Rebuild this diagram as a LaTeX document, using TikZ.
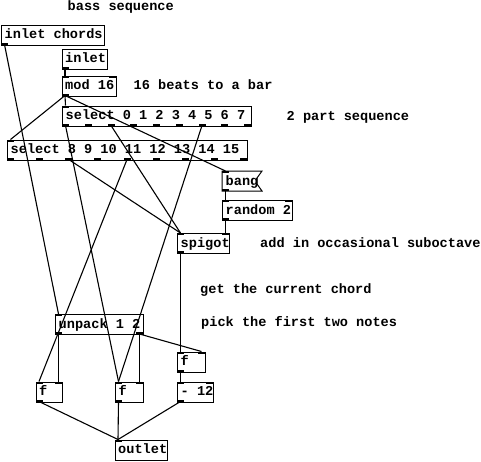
\documentclass[tikz,border=0pt]{standalone}
\usepackage{fontspec}
\setmonofont{Liberation Mono}
\newcommand\pdports[7]{%
  \pgfmathtruncatemacro\pdn{#6-1}%
  \foreach \k in {0,...,\pdn}{%
    \pgfmathsetmacro\pdx{#3+(#5-7)*\k/max(#6-1,1)}%
    \fill ({\pdx},{#4+#7}) rectangle ++(7,2);
    \coordinate (#1-#2\k) at ({\pdx+3.5},{#4});
  }%
}
\newcommand\pdobj[8]{%
  \pgfmathsetmacro\pdw{#4-#2}\pgfmathsetmacro\pdh{#5-#3}%
  \node[pdbox, minimum width=\pdw pt, minimum height=\pdh pt, anchor=north west] (#1) at (#2,#3) {};%
  \node[pdtext] (#1-t) at ({#2+3.5},{#3+14}) {#6};%
  \ifnum#7>0 \pdports{#1}{i}{#2}{#3}{\pdw}{#7}{0}\fi
  \ifnum#8>0 \pdports{#1}{o}{#2}{#5}{\pdw}{#8}{-2}\fi
}
\begin{document}
\begin{tikzpicture}[x=1pt,y=-1pt,
  pdbox/.style={draw, line width=1pt, inner sep=0pt},
  pdtext/.style={font=\fontsize{13.6}{16}\selectfont\ttfamily\bfseries, inner sep=0pt, anchor=base west},
  wire/.style={line width=1.1pt}]
\fill[white] (0,0) rectangle (481,461);
\useasboundingbox (0,0) rectangle (481,461);

% comments
\node[pdtext] (c1) at (67.5,10) {bass sequence};
\node[pdtext] (c2) at (133.5,89.5) {16 beats to a bar};
\node[pdtext] (c3) at (286.5,120) {2 part sequence};
\node[pdtext] (c4) at (260,247) {add in occasional suboctave};
\node[pdtext] (c5) at (200,293) {get the current chord};
\node[pdtext] (c6) at (201,326) {pick the first two notes};

% objects
\pdobj{inchords}{1}{24.5}{104}{44.5}{inlet chords}{0}{1}
\pdobj{inlet}{61.5}{48.5}{107}{68.5}{inlet}{0}{1}
\pdobj{mod}{61.5}{75.5}{116}{95.5}{mod 16}{2}{1}
\pdobj{selA}{62}{105.5}{251}{125.5}{select 0 1 2 3 4 5 6 7}{1}{9}
\pdobj{selB}{7}{139.5}{247}{159.5}{select 8 9 10 11 12 13 14 15}{1}{9}
\pdobj{random}{222}{200}{292}{220}{random 2}{2}{1}
\pdobj{spigot}{177}{233}{229}{253}{spigot}{2}{1}
\pdobj{unpack}{55}{314}{143}{334}{unpack 1 2}{1}{2}
\pdobj{fR}{177}{351.5}{205}{371.5}{f}{2}{1}
\pdobj{fL}{35.5}{381.5}{62}{401.5}{f}{2}{1}
\pdobj{fM}{115}{381.5}{143}{401.5}{f}{2}{1}
\pdobj{mtwelve}{177}{381.5}{213}{401.5}{- 12}{2}{1}
\pdobj{outlet}{114.5}{439.5}{167}{459.5}{outlet}{1}{0}

% message box
\node[inner sep=0pt, minimum width=40pt, minimum height=20pt, anchor=north west] (bang) at (222,171) {};
\draw[line width=1pt] (222,171) -- (262,171) -- (257,178) -- (257,184) -- (262,191) -- (222,191) -- cycle;
\node[pdtext] (bang-t) at (225.5,185) {bang};
\pdports{bang}{i}{222}{171}{36}{1}{0}
\pdports{bang}{o}{222}{191}{36}{1}{-2}

% wires
\draw[wire] (inchords-o0) -- (unpack-i0);
\draw[wire] (inlet-o0) -- (mod-i0);
\draw[wire] (mod-o0) -- (selA-i0);
\draw[wire] (mod-o0) -- (selB-i0);
\draw[wire] (mod-o0) -- (bang-i0);
\draw[wire] (selA-o0) -- (fM-i0);
\draw[wire] (selA-o2) -- (spigot-i0);
\draw[wire] (selA-o6) -- (fM-i0);
\draw[wire] (selB-o2) -- (spigot-i0);
\draw[wire] (selB-o4) -- (fL-i0);
\draw[wire] (bang-o0) -- (random-i0);
\draw[wire] (random-o0) -- (spigot-i1);
\draw[wire] (spigot-o0) -- (fR-i0);
\draw[wire] (unpack-o0) -- (fL-i1);
\draw[wire] (unpack-o1) -- (fM-i1);
\draw[wire] (unpack-o1) -- (fR-i1);
\draw[wire] (fR-o0) -- (mtwelve-i0);
\draw[wire] (fL-o0) -- (outlet-i0);
\draw[wire] (fM-o0) -- (outlet-i0);
\draw[wire] (mtwelve-o0) -- (outlet-i0);
\end{tikzpicture}
\end{document}
